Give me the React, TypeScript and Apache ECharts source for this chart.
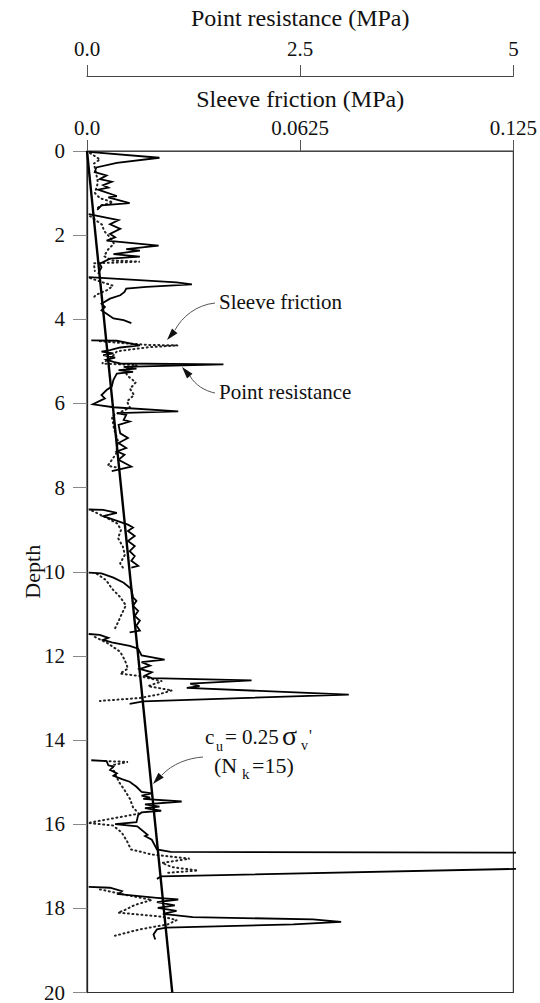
import React, { useEffect, useRef } from "react";
import * as echarts from "echarts";

// ---- Axis tick labels ----
const resistanceTickLabels = ["0.0", "2.5", "5"];
const frictionTickLabels = ["0.0", "0.0625", "0.125"];

// ---- Point resistance record: [depth (m), qc (MPa)]; null = break in record ----
const pointResistance: ([number, number] | null)[] = [
  [0.02, 0.02], [0.16, 0.85], [0.28, 0.35], [0.39, 0.11], [0.5, 0.09], [0.58, 0.23], [0.67, 0.15],
  [0.73, 0.29], [0.81, 0.19], [0.87, 0.25], [0.92, 0.13], [1.07, 0.35], [1.1, 0.25], [1.24, 0.5],
  [1.29, 0.17], [1.4, 0.12],
  null,
  [1.5, 0.02], [1.64, 0.37], [1.74, 0.27], [1.85, 0.39], [1.97, 0.27], [2.05, 0.33], [2.13, 0.23],
  [2.25, 0.84], [2.33, 0.46], [2.37, 0.62], [2.45, 0.31], [2.51, 0.62], [2.56, 0.27], [2.68, 0.15],
  [2.76, 0.17], [2.92, 0.13],
  null,
  [3.0, 0.02], [3.12, 1.05], [3.17, 1.23], [3.23, 0.7], [3.27, 0.46], [3.35, 0.44], [3.43, 0.39],
  [3.51, 0.27], [3.63, 0.17], [3.71, 0.21], [3.79, 0.17], [3.87, 0.23], [3.98, 0.31], [4.02, 0.43],
  [4.09, 0.52],
  null,
  [4.5, 0.05], [4.51, 0.35], [4.62, 0.62], [4.67, 0.39], [4.73, 0.27], [4.77, 0.17], [4.81, 0.31],
  [4.85, 0.19], [4.91, 0.33], [4.96, 0.23], [5.01, 0.31], [5.05, 0.39], [5.07, 1.6], [5.13, 0.43],
  [5.17, 0.58], [5.21, 0.37], [5.25, 0.54], [5.29, 0.35], [5.44, 0.31], [5.6, 0.29], [5.68, 0.23],
  [5.8, 0.17], [5.88, 0.21], [6.02, 0.07], [6.09, 0.31], [6.19, 1.07], [6.23, 0.35], [6.27, 0.46],
  [6.39, 0.43], [6.43, 0.5], [6.51, 0.37], [6.71, 0.39], [6.82, 0.48], [6.94, 0.37], [7.06, 0.46],
  [7.14, 0.35], [7.22, 0.44], [7.34, 0.37], [7.5, 0.52], [7.61, 0.29],
  null,
  [8.52, 0.02], [8.53, 0.19], [8.6, 0.35], [8.68, 0.19], [8.76, 0.31], [8.88, 0.48], [8.95, 0.54],
  [9.03, 0.48], [9.15, 0.56], [9.27, 0.48], [9.39, 0.56], [9.51, 0.5], [9.63, 0.56], [9.74, 0.52],
  [9.86, 0.6], [9.9, 0.52],
  null,
  [10.02, 0.02], [10.04, 0.17], [10.14, 0.31], [10.26, 0.43], [10.41, 0.52], [10.61, 0.54],
  [10.69, 0.58], [10.81, 0.54], [10.93, 0.6], [11.05, 0.56], [11.16, 0.62], [11.28, 0.58],
  [11.4, 0.62], [11.44, 0.5],
  null,
  [11.48, 0.02], [11.5, 0.15], [11.57, 0.25], [11.62, 0.19], [11.68, 0.29], [11.76, 0.5], [11.83, 0.6],
  [11.99, 0.64], [12.09, 0.91], [12.15, 0.64], [12.23, 0.74], [12.31, 0.62], [12.39, 0.76],
  [12.47, 0.68], [12.53, 0.76], [12.58, 1.93], [12.66, 1.21], [12.72, 1.32], [12.76, 1.17],
  [12.92, 3.07], [13.08, 0.66], [13.14, 0.5],
  null,
  [14.48, 0.05], [14.5, 0.23], [14.6, 0.25], [14.63, 0.31], [14.71, 0.27], [14.79, 0.35], [14.85, 0.31],
  [14.93, 0.41], [14.99, 0.5], [15.11, 0.58], [15.23, 0.64], [15.27, 0.76], [15.32, 0.64], [15.37, 0.74],
  [15.4, 0.66], [15.46, 1.11], [15.53, 0.68], [15.58, 0.85], [15.62, 0.68], [15.68, 0.87], [15.72, 0.64],
  [15.78, 0.6], [15.95, 0.58], [16.0, 0.33], [16.05, 0.59], [16.25, 0.71], [16.28, 0.68], [16.37, 0.76],
  [16.6, 0.82], [16.66, 0.98], [16.68, 6.0], [17.02, 6.0], [17.24, 0.87], [17.3, 0.82],
  null,
  [17.49, 0.02], [17.51, 0.27], [17.59, 0.41], [17.66, 0.37], [17.75, 0.82], [17.79, 1.07], [17.85, 0.82],
  [17.93, 1.03], [17.99, 0.83], [18.06, 1.05], [18.13, 0.89], [18.21, 1.24], [18.26, 2.65], [18.32, 2.98],
  [18.38, 2.42], [18.46, 0.93], [18.5, 0.82], [18.62, 0.78], [18.74, 0.8],
];

// ---- Sleeve friction record: [depth (m), fs (MPa)]; null = break in record ----
const sleeveFriction: ([number, number] | null)[] = [
  [0.05, 0.0009], [0.2, 0.0038], [0.3, 0.002], [0.5, 0.0026], [0.75, 0.0032], [1.0, 0.0023],
  [1.12, 0.0038], [1.22, 0.0076], [1.3, 0.0038], [1.4, 0.0026],
  null,
  [1.55, 0.0009], [1.75, 0.0044], [1.9, 0.005], [2.05, 0.0067], [2.2, 0.0079], [2.35, 0.0061],
  [2.5, 0.005], [2.6, 0.0073], [2.63, 0.0155], [2.67, 0.002], [2.85, 0.0023],
  null,
  [3.02, 0.0009], [3.1, 0.0038], [3.2, 0.0076], [3.3, 0.0061], [3.42, 0.0026], [3.5, 0.0018],
  null,
  [4.52, 0.0038], [4.57, 0.0111], [4.61, 0.0184], [4.62, 0.0266], [4.66, 0.0184], [4.76, 0.0088],
  [4.9, 0.0073], [5.05, 0.0044], [5.09, 0.0146], [5.2, 0.0108], [5.35, 0.012], [5.5, 0.0143],
  [5.65, 0.0126], [5.8, 0.0138], [5.95, 0.0117], [6.1, 0.0126], [6.3, 0.0073], [6.6, 0.0079],
  [6.9, 0.0091], [7.2, 0.0085], [7.48, 0.0061], [7.52, 0.0085],
  null,
  [8.55, 0.0015], [8.7, 0.0053], [8.85, 0.0088], [9.0, 0.01], [9.2, 0.0091], [9.4, 0.0105],
  [9.6, 0.0111], [9.8, 0.0097], [9.9, 0.0105],
  null,
  [10.05, 0.0029], [10.2, 0.0056], [10.4, 0.0073], [10.6, 0.0097], [10.8, 0.0114], [11.0, 0.0102],
  [11.2, 0.0091], [11.35, 0.0082],
  null,
  [11.55, 0.0023], [11.7, 0.0061], [11.9, 0.0097], [12.1, 0.0111], [12.3, 0.012], [12.42, 0.0097],
  [12.48, 0.0155], [12.6, 0.022], [12.72, 0.0179], [12.82, 0.0249], [12.92, 0.0208], [13.0, 0.0155],
  [13.07, 0.0038],
  null,
  [14.5, 0.0053], [14.52, 0.012], [14.6, 0.0073], [14.8, 0.0082], [15.0, 0.0094], [15.2, 0.0111],
  [15.4, 0.0126], [15.6, 0.0135], [15.75, 0.0152], [15.97, 0.0003], [16.03, 0.0076], [16.2, 0.0102],
  [16.4, 0.0117], [16.6, 0.0129], [16.72, 0.019], [16.82, 0.0301], [16.92, 0.022], [17.02, 0.0249],
  [17.1, 0.0325], [17.16, 0.0228],
  null,
  [17.55, 0.0038], [17.7, 0.0126], [17.8, 0.019], [17.92, 0.014], [18.05, 0.0108], [18.1, 0.0091],
  [18.2, 0.0222], [18.28, 0.0263], [18.38, 0.0237], [18.5, 0.0155], [18.65, 0.0082],
];

// ---- cu = 0.25 sigma'v (Nk = 15) line: [depth (m), qc (MPa)] ----
const cuLine: [number, number][] = [
  [0, 0],
  [20, 1.0],
];

const FONT = "Liberation Serif, Times New Roman, Times, serif";
const INK = "#111";

function toXY(arr: ([number, number] | null)[]) {
  return arr.map((p) => (p ? [p[1], p[0]] : ["-", "-"]));
}

function arrowHead(tip: [number, number], from: [number, number], len = 12, half = 3.6) {
  const dx = tip[0] - from[0];
  const dy = tip[1] - from[1];
  const l = Math.hypot(dx, dy);
  const ux = dx / l;
  const uy = dy / l;
  const bx = tip[0] - ux * len;
  const by = tip[1] - uy * len;
  return [
    [tip[0], tip[1]],
    [bx - uy * half, by + ux * half],
    [bx + uy * half, by - ux * half],
  ];
}

function txt(text: string, x: number, y: number, size: number, extra: any = {}) {
  return {
    type: "text",
    x,
    y,
    z: 100,
    silent: true,
    style: {
      text,
      fill: INK,
      fontFamily: FONT,
      fontSize: size,
      fontWeight: extra.weight || "normal",
      align: extra.align || "left",
      verticalAlign: extra.va || "middle",
    },
  };
}

export default function App() {
  const ref = useRef<HTMLDivElement>(null);

  useEffect(() => {
    document.body.style.margin = "0";
    if (!ref.current) return;
    const chart = echarts.init(ref.current, undefined, { renderer: "svg" });

    const axisText = { fontFamily: FONT, fontSize: 21, color: INK };
    const nameText = { fontFamily: FONT, fontSize: 24, color: INK };

    const option: any = {
      animation: false,
      backgroundColor: "#ffffff",
      textStyle: { fontFamily: FONT },
      grid: {
        left: 87,
        right: 26,
        top: 151,
        bottom: 8,
        show: true,
        borderColor: "#333",
        borderWidth: 1.2,
        backgroundColor: "transparent",
      },
      xAxis: [
        {
          type: "value",
          position: "top",
          offset: 75,
          min: 0,
          max: 5,
          interval: 2.5,
          name: "Point resistance (MPa)",
          nameLocation: "middle",
          nameGap: 46,
          nameMoveOverlap: false,
          nameTextStyle: nameText,
          axisLine: { show: true, onZero: false, lineStyle: { color: "#444", width: 1.2 } },
          axisTick: { show: true, length: 11, lineStyle: { color: "#555", width: 1 } },
          axisLabel: {
            ...axisText,
            margin: 17,
            formatter: (_v: number, i: number) => resistanceTickLabels[i],
          },
          splitLine: { show: false },
        },
        {
          type: "value",
          position: "top",
          offset: 0,
          min: 0,
          max: 0.125,
          interval: 0.0625,
          name: "Sleeve friction (MPa)",
          nameLocation: "middle",
          nameGap: 40,
          nameMoveOverlap: false,
          nameTextStyle: nameText,
          axisLine: { show: true, onZero: false, lineStyle: { color: "#444", width: 1.2 } },
          axisTick: { show: true, length: 11, lineStyle: { color: "#555", width: 1 } },
          axisLabel: {
            ...axisText,
            margin: 13,
            formatter: (_v: number, i: number) => frictionTickLabels[i],
          },
          splitLine: { show: false },
        },
      ],
      yAxis: [
        {
          type: "value",
          inverse: true,
          min: 0,
          max: 20,
          interval: 2,
          name: "Depth",
          nameLocation: "middle",
          nameGap: 44,
          nameMoveOverlap: false,
          nameRotate: 90,
          nameTextStyle: { fontFamily: FONT, fontSize: 22, color: INK },
          axisLine: { show: true, onZero: false, lineStyle: { color: "#222", width: 1.3 } },
          axisTick: { show: true, length: 14, lineStyle: { color: "#888", width: 1 } },
          axisLabel: { ...axisText, margin: 22 },
          splitLine: { show: false },
        },
      ],
      series: [
        {
          name: "Sleeve friction",
          type: "line",
          xAxisIndex: 1,
          yAxisIndex: 0,
          data: toXY(sleeveFriction),
          connectNulls: false,
          symbol: "none",
          showSymbol: false,
          clip: true,
          lineStyle: { color: "#222", width: 2, type: [1, 3.5], cap: "round" },
          z: 2,
        },
        {
          name: "Point resistance",
          type: "line",
          xAxisIndex: 0,
          yAxisIndex: 0,
          data: toXY(pointResistance),
          connectNulls: false,
          symbol: "none",
          showSymbol: false,
          clip: true,
          lineStyle: { color: "#000", width: 1.8, join: "miter" },
          z: 3,
        },
        {
          name: "cu",
          type: "line",
          xAxisIndex: 0,
          yAxisIndex: 0,
          data: toXY(cuLine),
          symbol: "none",
          showSymbol: false,
          clip: true,
          lineStyle: { color: "#000", width: 2.4 },
          z: 4,
        },
      ],
      graphic: [
        // Sleeve friction annotation
        txt("Sleeve friction", 219, 302, 21),
        {
          type: "bezierCurve",
          z: 100,
          silent: true,
          shape: { x1: 215, y1: 303, cpx1: 196, cpy1: 305, cpx2: 182, cpy2: 317, x2: 175, y2: 330 },
          style: { stroke: "#555", lineWidth: 1, fill: "none" },
        },
        {
          type: "polygon",
          z: 100,
          silent: true,
          shape: { points: arrowHead([167, 340], [178, 327]) },
          style: { fill: "#111" },
        },
        // Point resistance annotation
        txt("Point resistance", 219, 392, 21),
        {
          type: "bezierCurve",
          z: 100,
          silent: true,
          shape: { x1: 215, y1: 393, cpx1: 205, cpy1: 391, cpx2: 195, cpy2: 385, x2: 190, y2: 376 },
          style: { stroke: "#555", lineWidth: 1, fill: "none" },
        },
        {
          type: "polygon",
          z: 100,
          silent: true,
          shape: { points: arrowHead([182, 367], [193, 380]) },
          style: { fill: "#111" },
        },
        // cu = 0.25 sigma'v (Nk = 15)
        txt("c", 205, 737, 21),
        txt("u", 216, 746, 14),
        txt("= 0.25", 225, 737, 21),
        txt("σ", 282, 735, 28),
        txt("v", 301, 745, 14),
        txt("'", 309, 727, 16, { va: "top" }),
        txt("(N", 214, 765, 22),
        txt("k", 242, 774, 15),
        txt("=15)", 252, 765, 22),
        {
          type: "bezierCurve",
          z: 100,
          silent: true,
          shape: { x1: 203, y1: 757, cpx1: 188, cpy1: 758, cpx2: 172, cpy2: 764, x2: 162, y2: 775 },
          style: { stroke: "#555", lineWidth: 1, fill: "none" },
        },
        {
          type: "polygon",
          z: 100,
          silent: true,
          shape: { points: arrowHead([153, 784], [163, 773]) },
          style: { fill: "#111" },
        },
      ],
    };

    chart.setOption(option);
    return () => chart.dispose();
  }, []);

  return <div ref={ref} style={{ width: 540, height: 1003 }} />;
}
